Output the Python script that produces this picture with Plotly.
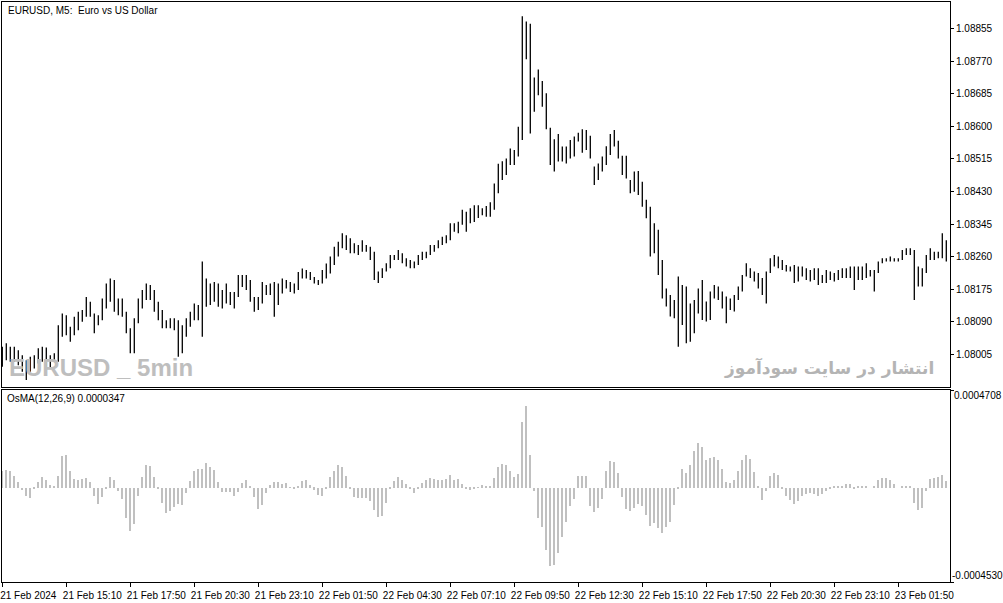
import pandas as pd
import plotly.graph_objects as go

# ---------------- data (10-minute resolution) ----------------
BAR_START = "2024-02-21 12:30"
BAR_STEP = "10min"

HIGH = [
    1.08025, 1.08034, 1.08025, 1.08025, 1.08016, 1.08003, 1.07990, 1.07999, 1.08003, 1.08021,
    1.08025, 1.08023, 1.08003, 1.08008, 1.08081, 1.08112, 1.08107, 1.08077, 1.08103, 1.08116,
    1.08121, 1.08155, 1.08142, 1.08112, 1.08107, 1.08151, 1.08190, 1.08203, 1.08199, 1.08151,
    1.08151, 1.08116, 1.08073, 1.08099, 1.08151, 1.08173, 1.08190, 1.08186, 1.08173, 1.08142,
    1.08121, 1.08094, 1.08099, 1.08099, 1.08094, 1.08081, 1.08099, 1.08116, 1.08138, 1.08134,
    1.08247, 1.08203, 1.08190, 1.08194, 1.08190, 1.08173, 1.08190, 1.08168, 1.08168, 1.08212,
    1.08212, 1.08212, 1.08199, 1.08155, 1.08155, 1.08194, 1.08186, 1.08190, 1.08194, 1.08190,
    1.08203, 1.08199, 1.08194, 1.08190, 1.08220, 1.08229, 1.08225, 1.08220, 1.08207, 1.08199,
    1.08225, 1.08242, 1.08260, 1.08286, 1.08299, 1.08321, 1.08316, 1.08308, 1.08295, 1.08290,
    1.08303, 1.08290, 1.08286, 1.08273, 1.08221, 1.08230, 1.08243, 1.08264, 1.08264, 1.08277,
    1.08269, 1.08256, 1.08251, 1.08247, 1.08264, 1.08273, 1.08273, 1.08290, 1.08290, 1.08303,
    1.08312, 1.08316, 1.08347, 1.08347, 1.08351, 1.08382, 1.08377, 1.08386, 1.08394, 1.08394,
    1.08386, 1.08392, 1.08402, 1.08451, 1.08502, 1.08509, 1.08516, 1.08542, 1.08538, 1.08599,
    1.08887, 1.08873, 1.08867, 1.08727, 1.08748, 1.08718, 1.08686, 1.08596, 1.08566, 1.08580,
    1.08547, 1.08547, 1.08564, 1.08573, 1.08583, 1.08592, 1.08590, 1.08575, 1.08495, 1.08503,
    1.08521, 1.08548, 1.08580, 1.08590, 1.08562, 1.08523, 1.08523, 1.08460, 1.08482, 1.08483,
    1.08455, 1.08408, 1.08390, 1.08347, 1.08330, 1.08251, 1.08177, 1.08160, 1.08147, 1.08208,
    1.08186, 1.08182, 1.08138, 1.08147, 1.08177, 1.08199, 1.08143, 1.08169, 1.08186, 1.08182,
    1.08169, 1.08156, 1.08151, 1.08160, 1.08182, 1.08212, 1.08243, 1.08230, 1.08221, 1.08217,
    1.08204, 1.08221, 1.08256, 1.08264, 1.08260, 1.08251, 1.08238, 1.08234, 1.08238, 1.08234,
    1.08234, 1.08230, 1.08225, 1.08230, 1.08230, 1.08212, 1.08225, 1.08221, 1.08217, 1.08225,
    1.08230, 1.08230, 1.08234, 1.08234, 1.08234, 1.08234, 1.08243, 1.08225, 1.08225, 1.08247,
    1.08256, 1.08256, 1.08260, 1.08256, 1.08256, 1.08277, 1.08282, 1.08282, 1.08277, 1.08234,
    1.08230, 1.08264, 1.08282, 1.08273, 1.08273, 1.08321, 1.08303,
]

LOW = [
    1.07973, 1.07990, 1.07986, 1.07986, 1.07977, 1.07960, 1.07938, 1.07960, 1.07968, 1.07981,
    1.07986, 1.07973, 1.07968, 1.07986, 1.07986, 1.08051, 1.08055, 1.08038, 1.08055, 1.08068,
    1.08090, 1.08103, 1.08103, 1.08060, 1.08081, 1.08094, 1.08125, 1.08142, 1.08116, 1.08107,
    1.08103, 1.08060, 1.08008, 1.08008, 1.08086, 1.08125, 1.08147, 1.08147, 1.08116, 1.08094,
    1.08073, 1.08073, 1.08073, 1.08068, 1.07999, 1.08008, 1.08051, 1.08077, 1.08094, 1.08094,
    1.08051, 1.08129, 1.08134, 1.08142, 1.08129, 1.08125, 1.08138, 1.08134, 1.08125, 1.08155,
    1.08181, 1.08173, 1.08142, 1.08116, 1.08121, 1.08138, 1.08160, 1.08160, 1.08103, 1.08134,
    1.08164, 1.08177, 1.08168, 1.08164, 1.08173, 1.08203, 1.08203, 1.08199, 1.08190, 1.08186,
    1.08190, 1.08203, 1.08216, 1.08238, 1.08260, 1.08282, 1.08277, 1.08269, 1.08269, 1.08264,
    1.08273, 1.08273, 1.08251, 1.08199, 1.08191, 1.08204, 1.08221, 1.08230, 1.08251, 1.08251,
    1.08243, 1.08234, 1.08230, 1.08230, 1.08238, 1.08251, 1.08256, 1.08264, 1.08273, 1.08282,
    1.08290, 1.08295, 1.08303, 1.08325, 1.08321, 1.08343, 1.08325, 1.08347, 1.08350, 1.08361,
    1.08368, 1.08364, 1.08364, 1.08382, 1.08425, 1.08460, 1.08473, 1.08499, 1.08499, 1.08521,
    1.08564, 1.08775, 1.08581, 1.08638, 1.08681, 1.08651, 1.08592, 1.08499, 1.08482, 1.08508,
    1.08508, 1.08503, 1.08516, 1.08521, 1.08560, 1.08531, 1.08538, 1.08516, 1.08447, 1.08460,
    1.08482, 1.08499, 1.08525, 1.08547, 1.08516, 1.08473, 1.08464, 1.08425, 1.08429, 1.08421,
    1.08390, 1.08360, 1.08260, 1.08269, 1.08212, 1.08151, 1.08130, 1.08104, 1.08099, 1.08025,
    1.08082, 1.08034, 1.08038, 1.08060, 1.08112, 1.08095, 1.08091, 1.08095, 1.08151, 1.08147,
    1.08125, 1.08086, 1.08121, 1.08117, 1.08147, 1.08169, 1.08208, 1.08204, 1.08195, 1.08177,
    1.08160, 1.08138, 1.08217, 1.08234, 1.08230, 1.08225, 1.08221, 1.08221, 1.08191, 1.08195,
    1.08208, 1.08199, 1.08195, 1.08199, 1.08186, 1.08191, 1.08191, 1.08199, 1.08195, 1.08199,
    1.08204, 1.08204, 1.08204, 1.08173, 1.08199, 1.08199, 1.08204, 1.08208, 1.08169, 1.08217,
    1.08243, 1.08247, 1.08247, 1.08247, 1.08247, 1.08251, 1.08264, 1.08264, 1.08147, 1.08182,
    1.08182, 1.08217, 1.08251, 1.08251, 1.08256, 1.08256, 1.08247,
]

OSMA = [
    0.0000806, 0.0000862, 0.0000798, 0.0000564, 0.0000258, -0.0000121, -0.0000411, -0.0000500, -0.0000048, 0.0000258,
    0.0000508, 0.0000387, 0.0000137, 0.0000056, 0.0000580, 0.0001548, 0.0001596, 0.0000822, 0.0000427, 0.0000363,
    0.0000403, 0.0000467, 0.0000258, -0.0000371, -0.0000758, -0.0000443, -0.0000048, 0.0000524, 0.0000395, -0.0000145,
    -0.0000548, -0.0001435, -0.0002079, -0.0001725, -0.0000403, 0.0000524, 0.0001112, 0.0001064, 0.0000540, -0.0000064,
    -0.0000750, -0.0001193, -0.0001112, -0.0000903, -0.0000758, -0.0000830, -0.0000242, 0.0000339, 0.0000822, 0.0000887,
    0.0000927, 0.0001209, 0.0000983, 0.0000870, 0.0000274, -0.0000177, -0.0000202, -0.0000185, -0.0000403, -0.0000185,
    0.0000210, 0.0000379, 0.0000081, -0.0000427, -0.0001032, -0.0000814, -0.0000226, 0.0000153, 0.0000290, 0.0000258,
    0.0000193, 0.0000210, 0.0000016, -0.0000064, 0.0000081, 0.0000314, 0.0000355, 0.0000153, -0.0000081, -0.0000347,
    -0.0000411, -0.0000048, 0.0000500, 0.0000822, 0.0001096, 0.0001008, 0.0000564, -0.0000008, -0.0000427, -0.0000500,
    -0.0000484, -0.0000484, -0.0000637, -0.0001056, -0.0001402, -0.0001354, -0.0000733, -0.0000064, 0.0000314, 0.0000516,
    0.0000379, 0.0000177, -0.0000064, -0.0000242, -0.0000032, 0.0000210, 0.0000379, 0.0000467, 0.0000419, 0.0000395,
    0.0000387, 0.0000419, 0.0000629, 0.0000395, 0.0000435, 0.0000193, -0.0000040, -0.0000089, -0.0000073, 0.0000032,
    0.0000121, 0.0000097, 0.0000048, 0.0000459, 0.0000983, 0.0001161, 0.0001112, 0.0000790, 0.0000532, 0.0000677,
    0.0003192, 0.0003917, 0.0001596, -0.0000150, -0.0001435, -0.0001870, -0.0002982, -0.0003756, -0.0003708, -0.0003127,
    -0.0002370, -0.0001628, -0.0000870, -0.0000516, 0.0000580, 0.0000580, 0.0000580, -0.0000870, -0.0001145, -0.0000951,
    -0.0000516, 0.0000822, 0.0001306, 0.0001257, 0.0000725, -0.0000435, -0.0001032, -0.0001112, -0.0000983, -0.0000790,
    -0.0000870, -0.0001306, -0.0001838, -0.0001693, -0.0001918, -0.0002160, -0.0001870, -0.0001628, -0.0000822, -0.0000050,
    0.0000919, 0.0000725, 0.0001112, 0.0001789, 0.0002160, 0.0001983, 0.0001354, 0.0001435, 0.0001483, 0.0001354,
    0.0000919, 0.0000290, 0.0000242, 0.0000387, 0.0000822, 0.0001354, 0.0001596, 0.0001386, 0.0000774, 0.0000100,
    -0.0000596, -0.0000160, 0.0000564, 0.0000725, 0.0000629, -0.0000060, -0.0000387, -0.0000596, -0.0000790, -0.0000629,
    -0.0000387, -0.0000306, -0.0000226, -0.0000306, -0.0000371, -0.0000306, -0.0000145, -0.0000048, 0.0000048, 0.0000081,
    0.0000097, 0.0000193, 0.0000193, -0.0000032, 0.0000048, 0.0000081, 0.0000048, 0.0000000, 0.0000097, 0.0000387,
    0.0000484, 0.0000484, 0.0000387, 0.0000193, 0.0000000, 0.0000097, 0.0000081, 0.0000097, -0.0000709, -0.0001080,
    -0.0000983, -0.0000150, 0.0000435, 0.0000484, 0.0000532, 0.0000629, 0.0000347,
]

PRICE_TICKS = [1.08005, 1.08090, 1.08175, 1.08260, 1.08345, 1.08430, 1.08515, 1.08600, 1.08685, 1.08770, 1.08855]
PRICE_RANGE = [1.07920, 1.08924]
OSMA_TICKS = [-0.0004530, 0.0004708]

TIME_TICKS = [
    "2024-02-21 12:30", "2024-02-21 15:10", "2024-02-21 17:50", "2024-02-21 20:30", "2024-02-21 23:10",
    "2024-02-22 01:50", "2024-02-22 04:30", "2024-02-22 07:10", "2024-02-22 09:50", "2024-02-22 12:30",
    "2024-02-22 15:10", "2024-02-22 17:50", "2024-02-22 20:30", "2024-02-22 23:10", "2024-02-23 01:50",
]
TIME_LABELS = [
    "21 Feb 2024", "21 Feb 15:10", "21 Feb 17:50", "21 Feb 20:30", "21 Feb 23:10",
    "22 Feb 01:50", "22 Feb 04:30", "22 Feb 07:10", "22 Feb 09:50", "22 Feb 12:30",
    "22 Feb 15:10", "22 Feb 17:50", "22 Feb 20:30", "22 Feb 23:10", "23 Feb 01:50",
]
TIME_RANGE = ["2024-02-21 12:29:15", "2024-02-23 03:59:15"]

TITLE = "EURUSD, M5:  Euro vs US Dollar"
OSMA_TITLE = "OsMA(12,26,9) 0.0000347"
WATERMARK_LEFT = "EURUSD _ 5min"
WATERMARK_RIGHT = "انتشار در سایت سودآموز"

# ---------------- build ----------------
times = pd.date_range(BAR_START, periods=len(HIGH), freq=BAR_STEP)

seg_x, seg_y = [], []
for t, h, l in zip(times, HIGH, LOW):
    seg_x += [t, t, None]
    seg_y += [l, h, None]

FONT = "Liberation Sans, Arial, sans-serif"

fig = go.Figure()
fig.add_trace(go.Scatter(
    x=seg_x, y=seg_y, mode="lines", xaxis="x", yaxis="y",
    line=dict(color="black", width=1.3), hoverinfo="skip", showlegend=False,
))
fig.add_trace(go.Bar(
    x=times, y=OSMA, xaxis="x2", yaxis="y2", width=300000,
    marker=dict(color="#C0C0C0", line=dict(width=0)), showlegend=False,
))

axis_common = dict(showline=True, mirror=True, linecolor="black", linewidth=1,
                   showgrid=False, zeroline=False, automargin=False)

fig.update_layout(
    width=1003, height=603,
    margin=dict(l=2, r=53, t=2, b=21),
    paper_bgcolor="white", plot_bgcolor="white",
    font=dict(family=FONT, size=10, color="black"),
    showlegend=False, bargap=0,
    xaxis=dict(domain=[0, 1], anchor="y", type="date", range=TIME_RANGE,
               showticklabels=False, ticks="", matches="x2", **axis_common),
    yaxis=dict(domain=[0.3362, 1], anchor="x", side="right", range=PRICE_RANGE,
               tickvals=PRICE_TICKS, ticktext=[f"{v:.5f}" for v in PRICE_TICKS],
               ticks="outside", ticklen=3, tickcolor="black",
               tickfont=dict(family=FONT, size=10, color="black"), **axis_common),
    xaxis2=dict(domain=[0, 1], anchor="y2", type="date", range=TIME_RANGE,
                tickvals=TIME_TICKS, ticktext=TIME_LABELS,
                ticks="outside", ticklen=4, tickcolor="black", ticklabelshift=26,
                ticklabelstandoff=0,
                tickfont=dict(family=FONT, size=10, color="black"), **axis_common),
    yaxis2=dict(domain=[0, 0.331], anchor="x2", side="right",
                range=[OSMA_TICKS[0], OSMA_TICKS[1]],
                tickvals=OSMA_TICKS, showticklabels=False,
                ticks="outside", ticklen=3, tickcolor="black", **axis_common),
)

fig.add_annotation(text=TITLE, xref="paper", yref="y domain", x=0, y=1,
                   xanchor="left", yanchor="top", xshift=4, yshift=-1, showarrow=False,
                   font=dict(family=FONT, size=10, color="black"))
fig.add_annotation(text=OSMA_TITLE, xref="paper", yref="y2 domain", x=0, y=1,
                   xanchor="left", yanchor="top", xshift=3, yshift=-1, showarrow=False,
                   font=dict(family=FONT, size=10, color="black"))
fig.add_annotation(text=f"{OSMA_TICKS[1]:.7f}", xref="paper", yref="y2 domain", x=1, y=1,
                   xanchor="left", yanchor="top", xshift=2, yshift=2, showarrow=False,
                   font=dict(family=FONT, size=10, color="black"))
fig.add_annotation(text=f"{OSMA_TICKS[0]:.7f}", xref="paper", yref="y2 domain", x=1, y=0,
                   xanchor="left", yanchor="bottom", xshift=0, yshift=-1, showarrow=False,
                   font=dict(family=FONT, size=10, color="black"))
fig.add_annotation(text=f"<b>{WATERMARK_LEFT}</b>", xref="paper", yref="y domain", x=0, y=0.05,
                   xanchor="left", yanchor="middle", xshift=5, showarrow=False,
                   font=dict(family="Liberation Sans, Arial, sans-serif",
                             size=24, color="#BEBEBE"))
fig.add_annotation(text=f"<b>{WATERMARK_RIGHT}</b>", xref="paper", yref="y domain", x=0.985, y=0.05,
                   xanchor="right", yanchor="middle", showarrow=False,
                   font=dict(family="DejaVu Sans, Noto Sans, sans-serif", size=17, color="#B4B4B4"))

fig.write_html(
    "out.html",
    config={"displayModeBar": False},
    post_script="document.body.style.margin='0px';document.body.style.overflow='hidden';",
)
